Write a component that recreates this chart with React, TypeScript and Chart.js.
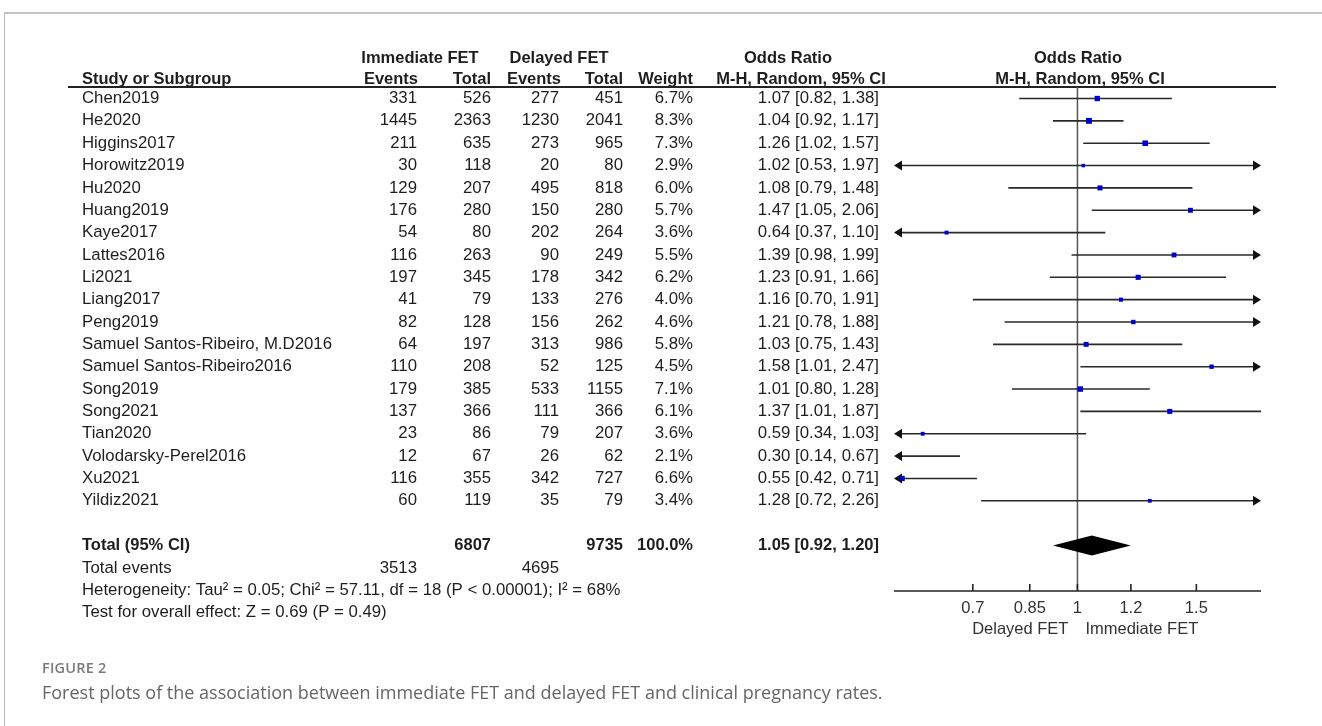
import React, { useEffect, useRef } from "react";
import { Chart, registerables } from "chart.js";

Chart.register(...registerables);

// Study-level data (immediate vs delayed frozen embryo transfer)
const studies = [
  "Chen2019",
  "He2020",
  "Higgins2017",
  "Horowitz2019",
  "Hu2020",
  "Huang2019",
  "Kaye2017",
  "Lattes2016",
  "Li2021",
  "Liang2017",
  "Peng2019",
  "Samuel Santos-Ribeiro, M.D2016",
  "Samuel Santos-Ribeiro2016",
  "Song2019",
  "Song2021",
  "Tian2020",
  "Volodarsky-Perel2016",
  "Xu2021",
  "Yildiz2021",
];
const immEvents = [331, 1445, 211, 30, 129, 176, 54, 116, 197, 41, 82, 64, 110, 179, 137, 23, 12, 116, 60];
const immTotal = [526, 2363, 635, 118, 207, 280, 80, 263, 345, 79, 128, 197, 208, 385, 366, 86, 67, 355, 119];
const delEvents = [277, 1230, 273, 20, 495, 150, 202, 90, 178, 133, 156, 313, 52, 533, 111, 79, 26, 342, 35];
const delTotal = [451, 2041, 965, 80, 818, 280, 264, 249, 342, 276, 262, 986, 125, 1155, 366, 207, 62, 727, 79];
const weights = [6.7, 8.3, 7.3, 2.9, 6.0, 5.7, 3.6, 5.5, 6.2, 4.0, 4.6, 5.8, 4.5, 7.1, 6.1, 3.6, 2.1, 6.6, 3.4];
const oddsRatios = [1.07, 1.04, 1.26, 1.02, 1.08, 1.47, 0.64, 1.39, 1.23, 1.16, 1.21, 1.03, 1.58, 1.01, 1.37, 0.59, 0.3, 0.55, 1.28];
const ciLower = [0.82, 0.92, 1.02, 0.53, 0.79, 1.05, 0.37, 0.98, 0.91, 0.7, 0.78, 0.75, 1.01, 0.8, 1.01, 0.34, 0.14, 0.42, 0.72];
const ciUpper = [1.38, 1.17, 1.57, 1.97, 1.48, 2.06, 1.1, 1.99, 1.66, 1.91, 1.88, 1.43, 2.47, 1.28, 1.87, 1.03, 0.67, 0.71, 2.26];

// Pooled result
const pooledOR = 1.05;
const pooledLower = 0.92;
const pooledUpper = 1.2;
const pooledImmTotal = 6807;
const pooledDelTotal = 9735;
const pooledImmEvents = 3513;
const pooledDelEvents = 4695;
const heterogeneityText = "Heterogeneity: Tau² = 0.05; Chi² = 57.11, df = 18 (P < 0.00001); I² = 68%";
const overallEffectText = "Test for overall effect: Z = 0.69 (P = 0.49)";

// Axis
const axisTicks = [0.7, 0.85, 1, 1.2, 1.5];
const axisMin = 0.535;
const axisMax = 1.87;

const FONT = '"Liberation Sans", Arial, Helvetica, sans-serif';
const FS_BODY = 16.8;
const FS_HEAD = 16.5;
const TEXT = "#1e1e1e";

const fmt2 = (v: number) => v.toFixed(2);
const orLabel = (o: number, l: number, u: number) => `${fmt2(o)} [${fmt2(l)}, ${fmt2(u)}]`;

function text(
  ctx: CanvasRenderingContext2D,
  s: string,
  x: number,
  y: number,
  align: CanvasTextAlign,
  bold = false,
  size = FS_BODY
) {
  ctx.font = `${bold ? "bold " : ""}${size}px ${FONT}`;
  ctx.textAlign = align;
  ctx.textBaseline = "middle";
  ctx.fillStyle = TEXT;
  ctx.fillText(s, x, y);
}

const forestPlugin = {
  id: "forestTable",
  beforeDatasetsDraw(chart: any) {
    const ctx: CanvasRenderingContext2D = chart.ctx;
    const xs = chart.scales.x;
    const ys = chart.scales.y;
    const { left, right, top, bottom } = chart.chartArea;
    ctx.save();

    // header rule
    ctx.strokeStyle = "#222";
    ctx.lineWidth = 1.8;
    ctx.beginPath();
    ctx.moveTo(68, top);
    ctx.lineTo(1276, top);
    ctx.stroke();

    // line of no effect
    const x1 = xs.getPixelForValue(1);
    ctx.strokeStyle = "#555";
    ctx.lineWidth = 1.5;
    ctx.beginPath();
    ctx.moveTo(x1, top);
    ctx.lineTo(x1, bottom);
    ctx.stroke();

    // confidence intervals
    const head = 8;
    const half = 5;
    ctx.strokeStyle = "#2a2a2a";
    ctx.fillStyle = "#111";
    ctx.lineWidth = 1.6;
    studies.forEach((_, i) => {
      const y = ys.getPixelForValue(i);
      const lowOut = ciLower[i] < axisMin;
      const highOut = ciUpper[i] > axisMax;
      const xa = lowOut ? left : xs.getPixelForValue(ciLower[i]);
      const xb = highOut ? right : xs.getPixelForValue(ciUpper[i]);
      ctx.beginPath();
      ctx.moveTo(lowOut ? xa + head - 1 : xa, y);
      ctx.lineTo(highOut ? xb - head + 1 : xb, y);
      ctx.stroke();
      if (lowOut) {
        ctx.beginPath();
        ctx.moveTo(xa, y);
        ctx.lineTo(xa + head, y - half);
        ctx.lineTo(xa + head, y + half);
        ctx.closePath();
        ctx.fill();
      }
      if (highOut) {
        ctx.beginPath();
        ctx.moveTo(xb, y);
        ctx.lineTo(xb - head, y - half);
        ctx.lineTo(xb - head, y + half);
        ctx.closePath();
        ctx.fill();
      }
    });

    // horizontal axis
    ctx.strokeStyle = "#222";
    ctx.lineWidth = 1.6;
    ctx.beginPath();
    ctx.moveTo(left, bottom);
    ctx.lineTo(right, bottom);
    ctx.stroke();
    ctx.font = `16.5px ${FONT}`;
    ctx.fillStyle = "#333";
    ctx.textAlign = "center";
    ctx.textBaseline = "middle";
    axisTicks.forEach((t) => {
      const px = xs.getPixelForValue(t);
      ctx.beginPath();
      ctx.moveTo(px, bottom);
      ctx.lineTo(px, bottom - 7);
      ctx.stroke();
      ctx.fillText(String(t), px, bottom + 17);
    });
    ctx.textAlign = "right";
    ctx.fillText("Delayed FET", x1 - 9, bottom + 38);
    ctx.textAlign = "left";
    ctx.fillText("Immediate FET", x1 + 8, bottom + 38);
    ctx.restore();
  },
  afterDatasetsDraw(chart: any) {
    const ctx: CanvasRenderingContext2D = chart.ctx;
    const xs = chart.scales.x;
    const ys = chart.scales.y;
    ctx.save();

    // pooled diamond
    const yd = ys.getPixelForValue(studies.length + 1);
    ctx.fillStyle = "#000";
    ctx.beginPath();
    ctx.moveTo(xs.getPixelForValue(pooledLower), yd);
    ctx.lineTo(xs.getPixelForValue(pooledOR), yd - 10);
    ctx.lineTo(xs.getPixelForValue(pooledUpper), yd);
    ctx.lineTo(xs.getPixelForValue(pooledOR), yd + 10);
    ctx.closePath();
    ctx.fill();

    // column headers
    const h1 = 58;
    const h2 = 79;
    text(ctx, "Immediate FET", 420, h1, "center", true, FS_HEAD);
    text(ctx, "Delayed FET", 559, h1, "center", true, FS_HEAD);
    text(ctx, "Odds Ratio", 788, h1, "center", true, FS_HEAD);
    text(ctx, "Odds Ratio", 1078, h1, "center", true, FS_HEAD);
    text(ctx, "Study or Subgroup", 82, h2, "left", true, FS_HEAD);
    text(ctx, "Events", 418, h2, "right", true, FS_HEAD);
    text(ctx, "Total", 491, h2, "right", true, FS_HEAD);
    text(ctx, "Events", 561, h2, "right", true, FS_HEAD);
    text(ctx, "Total", 623, h2, "right", true, FS_HEAD);
    text(ctx, "Weight", 693, h2, "right", true, FS_HEAD);
    text(ctx, "M-H, Random, 95% CI", 801, h2, "center", true, FS_HEAD);
    text(ctx, "M-H, Random, 95% CI", 1080, h2, "center", true, FS_HEAD);

    // study rows
    studies.forEach((name, i) => {
      const y = ys.getPixelForValue(i);
      text(ctx, name, 82, y, "left");
      text(ctx, String(immEvents[i]), 417, y, "right");
      text(ctx, String(immTotal[i]), 491, y, "right");
      text(ctx, String(delEvents[i]), 559, y, "right");
      text(ctx, String(delTotal[i]), 623, y, "right");
      text(ctx, `${weights[i].toFixed(1)}%`, 693, y, "right");
      text(ctx, orLabel(oddsRatios[i], ciLower[i], ciUpper[i]), 879, y, "right");
    });

    // summary rows
    const yt = ys.getPixelForValue(studies.length + 1);
    const totalWeight = weights.reduce((a, b) => a + b, 0);
    text(ctx, "Total (95% CI)", 82, yt, "left", true, FS_HEAD);
    text(ctx, String(pooledImmTotal), 491, yt, "right", true, FS_HEAD);
    text(ctx, String(pooledDelTotal), 623, yt, "right", true, FS_HEAD);
    text(ctx, `${(Math.round(totalWeight / 10) * 10).toFixed(1)}%`, 693, yt, "right", true, FS_HEAD);
    text(ctx, orLabel(pooledOR, pooledLower, pooledUpper), 879, yt, "right", true, FS_HEAD);

    const ye = ys.getPixelForValue(studies.length + 2);
    text(ctx, "Total events", 82, ye, "left");
    text(ctx, String(pooledImmEvents), 417, ye, "right");
    text(ctx, String(pooledDelEvents), 559, ye, "right");
    text(ctx, heterogeneityText, 82, ys.getPixelForValue(studies.length + 3), "left");
    text(ctx, overallEffectText, 82, ys.getPixelForValue(studies.length + 4), "left");
    ctx.restore();
  },
};

export default function App() {
  const canvasRef = useRef<HTMLCanvasElement>(null);

  useEffect(() => {
    document.body.style.margin = "0";
    const canvas = canvasRef.current;
    if (!canvas) return;
    const chart = new Chart(canvas, {
      type: "scatter",
      data: {
        datasets: [
          {
            data: oddsRatios.map((v, i) => ({ x: v, y: i })),
            pointStyle: "rect",
            pointRadius: (c: any) => 1.45 * Math.sqrt(weights[c.dataIndex] ?? 1),
            backgroundColor: "#0000cc",
            borderWidth: 0,
          },
        ],
      },
      options: {
        responsive: false,
        animation: false,
        devicePixelRatio: 1,
        events: [],
        layout: { padding: { left: 894, right: 61, top: 87, bottom: 135 } },
        scales: {
          x: { type: "logarithmic", min: axisMin, max: axisMax, display: false },
          y: { type: "linear", min: -0.515, max: 22.035, reverse: true, display: false },
        },
        plugins: { legend: { display: false }, tooltip: { enabled: false } },
      },
      plugins: [forestPlugin],
    } as any);
    return () => chart.destroy();
  }, []);

  return (
    <div style={{ position: "relative", width: 1322, height: 726, overflow: "hidden", background: "#fff" }}>
      <div
        style={{
          position: "absolute",
          left: 4,
          top: 12,
          right: -4,
          bottom: -4,
          borderLeft: "1px solid #b8b8b8",
          borderTop: "2px solid #c4c4c4",
        }}
      />
      <canvas ref={canvasRef} width={1322} height={726} style={{ position: "absolute", left: 0, top: 0 }} />
      <div
        style={{
          position: "absolute",
          left: 42,
          top: 658,
          font: '600 14.5px "Open Sans", sans-serif',
          color: "#7a7a7a",
          letterSpacing: "0.2px",
        }}
      >
        FIGURE 2
      </div>
      <div
        style={{
          position: "absolute",
          left: 42,
          top: 680,
          font: '400 18px "Open Sans", sans-serif',
          color: "#666",
          whiteSpace: "nowrap",
        }}
      >
        Forest plots of the association between immediate FET and delayed FET and clinical pregnancy rates.
      </div>
    </div>
  );
}
